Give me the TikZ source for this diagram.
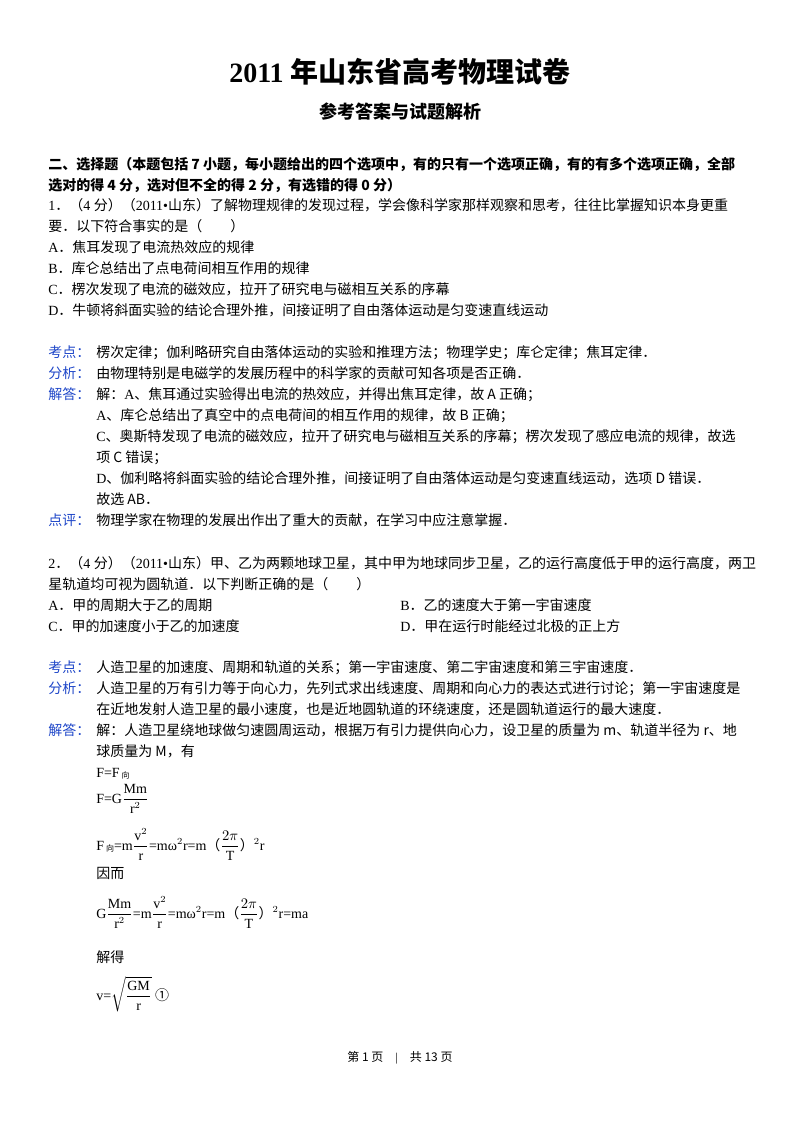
\documentclass[tikz,border=0pt]{standalone}
\usepackage{amsmath}
\usepackage{fontspec}
\setmainfont{Liberation Serif}
\newfontfamily\cjk{Noto Sans CJK SC}
\XeTeXinterchartokenstate=1
\newXeTeXintercharclass\cjkclass
\makeatletter
\count@="3000 \loop\ifnum\count@<"3040 \XeTeXcharclass\count@=\cjkclass \advance\count@ 1 \repeat
\count@="4E00 \loop\ifnum\count@<"A000 \XeTeXcharclass\count@=\cjkclass \advance\count@ 1 \repeat
\count@="FF00 \loop\ifnum\count@<"FFF0 \XeTeXcharclass\count@=\cjkclass \advance\count@ 1 \repeat
\XeTeXcharclass"2460=\cjkclass
\makeatother
\XeTeXinterchartoks 0 \cjkclass {\cjk}
\XeTeXinterchartoks 4095 \cjkclass {\cjk}
\XeTeXinterchartoks \cjkclass 0 {\rmfamily}
\definecolor{lab}{RGB}{30,70,200}
\begin{document}
\begin{tikzpicture}[x=0.75pt,y=-0.75pt,
  t/.style={anchor=base west,inner sep=0pt,font=\fontsize{10.5pt}{12pt}\selectfont},
  lb/.style={t,text=lab}]
\useasboundingbox (0,0) rectangle (800,1132);
\node[anchor=base,inner sep=0pt,font=\fontsize{21pt}{24pt}\selectfont\bfseries] (title) at (400,82) {2011 年山东省高考物理试卷};
\node[anchor=base,inner sep=0pt,font=\fontsize{13.5pt}{16pt}\selectfont\bfseries] (sub) at (400,118) {参考答案与试题解析};
\node[t,font=\fontsize{10.5pt}{12pt}\selectfont\bfseries] (s1) at (48,169) {二、选择题（本题包括 7 小题，每小题给出的四个选项中，有的只有一个选项正确，有的有多个选项正确，全部};
\node[t,font=\fontsize{10.5pt}{12pt}\selectfont\bfseries] (s2) at (48,190) {选对的得 4 分，选对但不全的得 2 分，有选错的得 0 分）};
\node[t] (q1a) at (48,210) {1．（4 分）（2011•山东）了解物理规律的发现过程，学会像科学家那样观察和思考，往往比掌握知识本身更重};
\node[t] (q1b) at (48,231) {要．以下符合事实的是（　　）};
\node[t] (q1A) at (48,252) {A．焦耳发现了电流热效应的规律};
\node[t] (q1B) at (48,273) {B．库仑总结出了点电荷间相互作用的规律};
\node[t] (q1C) at (48,294) {C．楞次发现了电流的磁效应，拉开了研究电与磁相互关系的序幕};
\node[t] (q1D) at (48,315) {D．牛顿将斜面实验的结论合理外推，间接证明了自由落体运动是匀变速直线运动};
\node[lb] (k1) at (48,357) {考点：};
\node[t] (k1t) at (96,357) {楞次定律；伽利略研究自由落体运动的实验和推理方法；物理学史；库仑定律；焦耳定律．};
\node[lb] (f1) at (48,378) {分析：};
\node[t] (f1t) at (96,378) {由物理特别是电磁学的发展历程中的科学家的贡献可知各项是否正确．};
\node[lb] (j1) at (48,399) {解答：};
\node[t] (j1a) at (96,399) {解：A、焦耳通过实验得出电流的热效应，并得出焦耳定律，故 A 正确；};
\node[t] (j1b) at (96,420) {A、库仑总结出了真空中的点电荷间的相互作用的规律，故 B 正确；};
\node[t] (j1c) at (96,441) {C、奥斯特发现了电流的磁效应，拉开了研究电与磁相互关系的序幕；楞次发现了感应电流的规律，故选};
\node[t] (j1d) at (96,462) {项 C 错误；};
\node[t] (j1e) at (96,483) {D、伽利略将斜面实验的结论合理外推，间接证明了自由落体运动是匀变速直线运动，选项 D 错误．};
\node[t] (j1f) at (96,504) {故选 AB．};
\node[lb] (d1) at (48,525) {点评：};
\node[t] (d1t) at (96,525) {物理学家在物理的发展出作出了重大的贡献，在学习中应注意掌握．};
\node[t] (q2a) at (48,568) {2．（4 分）（2011•山东）甲、乙为两颗地球卫星，其中甲为地球同步卫星，乙的运行高度低于甲的运行高度，两卫};
\node[t] (q2b) at (48,589) {星轨道均可视为圆轨道．以下判断正确的是（　　）};
\node[t] (q2A) at (48,610) {A．甲的周期大于乙的周期};
\node[t] (q2B) at (400,610) {B．乙的速度大于第一宇宙速度};
\node[t] (q2C) at (48,631) {C．甲的加速度小于乙的加速度};
\node[t] (q2D) at (400,631) {D．甲在运行时能经过北极的正上方};
\node[lb] (k2) at (48,672) {考点：};
\node[t] (k2t) at (96,672) {人造卫星的加速度、周期和轨道的关系；第一宇宙速度、第二宇宙速度和第三宇宙速度．};
\node[lb] (f2) at (48,693) {分析：};
\node[t] (f2a) at (96,693) {人造卫星的万有引力等于向心力，先列式求出线速度、周期和向心力的表达式进行讨论；第一宇宙速度是};
\node[t] (f2b) at (96,714) {在近地发射人造卫星的最小速度，也是近地圆轨道的环绕速度，还是圆轨道运行的最大速度．};
\node[lb] (j2) at (48,735) {解答：};
\node[t] (j2a) at (96,735) {解：人造卫星绕地球做匀速圆周运动，根据万有引力提供向心力，设卫星的质量为 m、轨道半径为 r、地};
\node[t] (j2b) at (96,756) {球质量为 M，有};
\node[t] (e1) at (96,777) {F=F{\fontsize{6pt}{7pt}\selectfont\raisebox{-1pt}{ 向}}};
\node[t] (e2) at (96,803) {F=G$\dfrac{\mathrm{Mm}}{\mathrm{r}^{2}}$};
\node[t] (e3) at (96,850) {F{\fontsize{6pt}{7pt}\selectfont\raisebox{-1pt}{ 向}}\rmfamily=m$\dfrac{\mathrm{v}^{2}}{\mathrm{r}}$=mω$^2$r=m（$\dfrac{2\pi}{\mathrm{T}}$）\rmfamily$^{2}$r};
\node[t] (e4) at (96,878) {因而};
\node[t] (e5) at (96,918) {G$\dfrac{\mathrm{Mm}}{\mathrm{r}^{2}}$=m$\dfrac{\mathrm{v}^{2}}{\mathrm{r}}$=mω$^2$r=m（$\dfrac{2\pi}{\mathrm{T}}$）\rmfamily$^{2}$r=ma};
\node[t] (e6) at (96,962) {解得};
\node[t] (e7) at (96,1000) {v=$\sqrt{\dfrac{\mathrm{GM}}{\mathrm{r}}}$ ①};
\node[anchor=base,inner sep=0pt,font=\fontsize{9pt}{10pt}\selectfont] (foot) at (400,1061) {第 1 页　|　共 13 页};
\end{tikzpicture}
\end{document}
